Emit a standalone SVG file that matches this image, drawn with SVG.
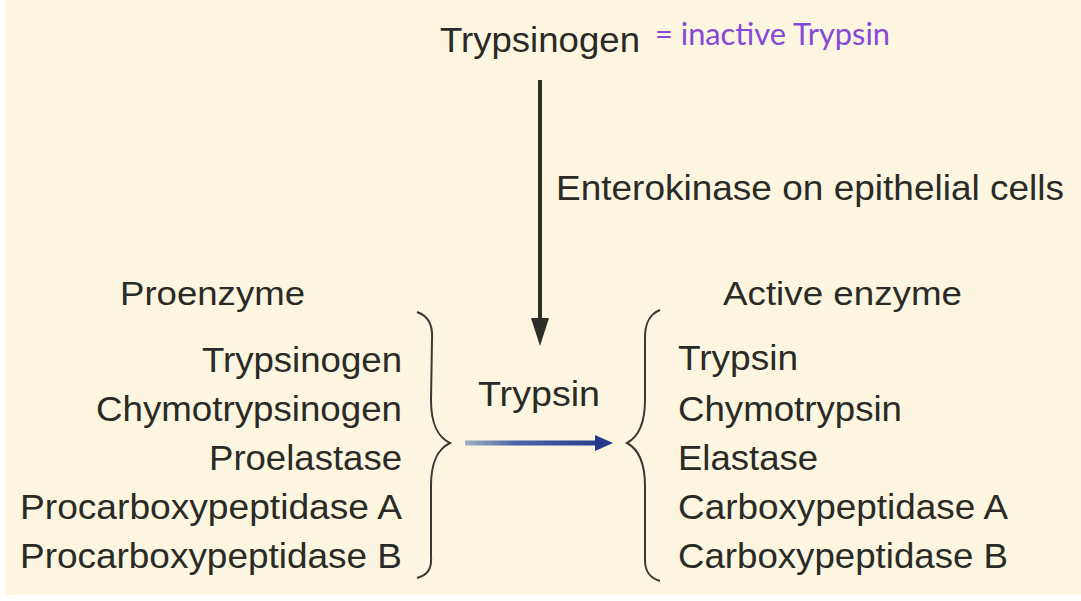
<svg xmlns="http://www.w3.org/2000/svg" width="1081" height="601" viewBox="0 0 1081 601">
<defs>
<style>
.t{font-family:"Liberation Sans",Arial,sans-serif;font-size:35px;fill:#2a2a26}
.h{font-family:"Liberation Sans",Arial,sans-serif;font-size:33px;fill:#2a2a26}
.hw{font-family:"Lato","DejaVu Sans",sans-serif;font-size:31px;font-weight:400;fill:#8548d8}
.brace{fill:none;stroke:#3a3a34;stroke-width:2}
</style>
<linearGradient id="blueg" gradientUnits="userSpaceOnUse" x1="465" y1="443" x2="612" y2="443">
<stop offset="0" stop-color="#a4afc3"/>
<stop offset="0.35" stop-color="#4a63a8"/>
<stop offset="1" stop-color="#233a8c"/>
</linearGradient>
</defs>
<rect x="0" y="0" width="1081" height="601" fill="#ffffff"/>
<rect x="5" y="0" width="1076" height="595" fill="#fcf5df"/>

<g id="connectors">
<line x1="540" y1="80" x2="540" y2="318" stroke="#2e2e28" stroke-width="4"/>
<path d="M531,318 L549,318 L540,346 Z" fill="#2e2e28"/>
<line x1="465" y1="443" x2="598" y2="443" stroke="url(#blueg)" stroke-width="5"/>
<path d="M595,435 L613,443 L595,451 Z" fill="#233a8c"/>
</g>

<g id="trypsinogen-top">
<text class="t" x="440" y="52" textLength="200" lengthAdjust="spacingAndGlyphs">Trypsinogen</text>
<text class="hw" x="655" y="45" textLength="235" lengthAdjust="spacingAndGlyphs">= inactive Trypsin</text>
</g>

<g id="enterokinase-label">
<text class="t" x="556" y="200" textLength="508" lengthAdjust="spacingAndGlyphs">Enterokinase on epithelial cells</text>
</g>

<g id="proenzyme">
<text class="h" x="120" y="305" textLength="185" lengthAdjust="spacingAndGlyphs">Proenzyme</text>
<text class="t" x="402" y="372" text-anchor="end" textLength="200" lengthAdjust="spacingAndGlyphs">Trypsinogen</text>
<text class="t" x="402" y="421" text-anchor="end" textLength="306" lengthAdjust="spacingAndGlyphs">Chymotrypsinogen</text>
<text class="t" x="402" y="470" text-anchor="end" textLength="193" lengthAdjust="spacingAndGlyphs">Proelastase</text>
<text class="t" x="402" y="519" text-anchor="end" textLength="382" lengthAdjust="spacingAndGlyphs">Procarboxypeptidase A</text>
<text class="t" x="402" y="568" text-anchor="end" textLength="382" lengthAdjust="spacingAndGlyphs">Procarboxypeptidase B</text>
<path class="brace" d="M417,312 C428,316 433,324 432,340 L431,400 C431,425 438,437 450,443 C438,449 431,461 431,486 L431,556 C432,570 427,575 417,578"/>
</g>

<g id="trypsin-mid">
<text class="t" x="478" y="406" textLength="122" lengthAdjust="spacingAndGlyphs">Trypsin</text>
</g>

<g id="active-enzyme">
<text class="h" x="723" y="305" textLength="239" lengthAdjust="spacingAndGlyphs">Active enzyme</text>
<path class="brace" d="M660,310 C650,314 645,322 645,338 L645,400 C645,425 638,437 627,443 C638,449 645,461 645,486 L645,560 C645,572 650,578 660,581"/>
<text class="t" x="678" y="370" textLength="120" lengthAdjust="spacingAndGlyphs">Trypsin</text>
<text class="t" x="678" y="421" textLength="224" lengthAdjust="spacingAndGlyphs">Chymotrypsin</text>
<text class="t" x="678" y="470" textLength="140" lengthAdjust="spacingAndGlyphs">Elastase</text>
<text class="t" x="678" y="519" textLength="330" lengthAdjust="spacingAndGlyphs">Carboxypeptidase A</text>
<text class="t" x="678" y="568" textLength="330" lengthAdjust="spacingAndGlyphs">Carboxypeptidase B</text>
</g>
</svg>
